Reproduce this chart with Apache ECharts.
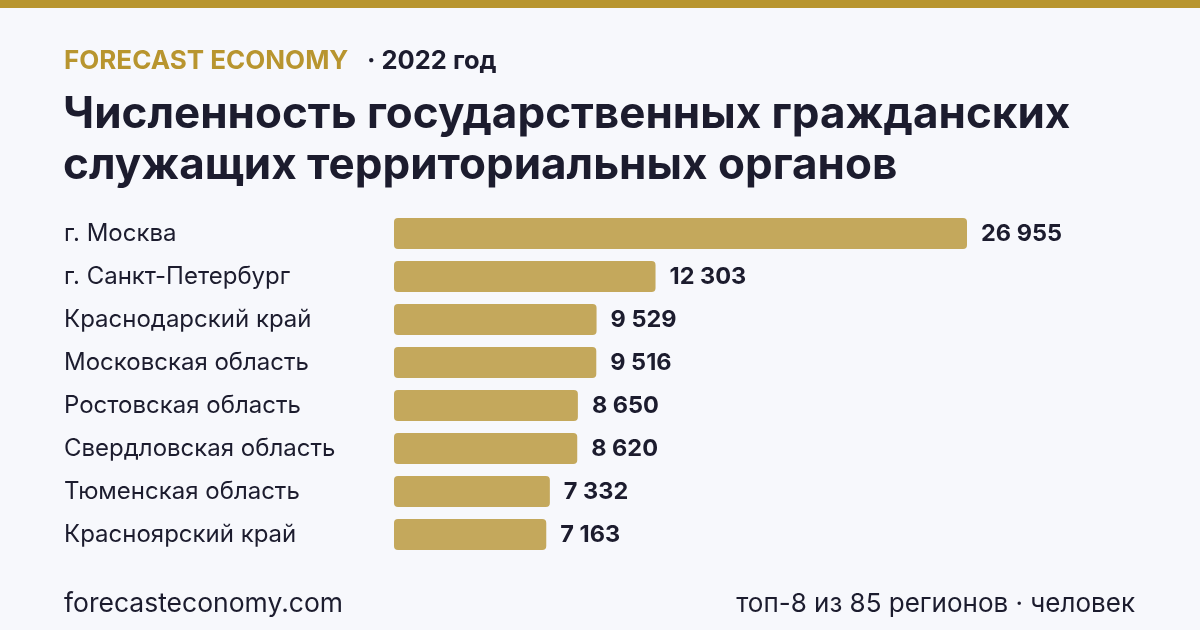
<!DOCTYPE html>
<html><head><meta charset="utf-8">
<script src="https://cdn.jsdelivr.net/npm/echarts@6/dist/echarts.min.js"></script>
<style>html,body{margin:0;padding:0;background:#f7f8fc}#c{width:1200px;height:630px}</style>
</head><body><div id="c"></div>
<script>
const categories = ["г. Москва","г. Санкт-Петербург","Краснодарский край","Московская область","Ростовская область","Свердловская область","Тюменская область","Красноярский край"];
const values = [26955,12303,9529,9516,8650,8620,7332,7163];
const brand = "FORECAST ECONOMY";
const yearText = "· 2022 год";
const titleLines = ["Численность государственных гражданских","служащих территориальных органов"];
const sourceText = "forecasteconomy.com";
const noteText = "топ-8 из 85 регионов · человек";

const dark = "#1c1c2e", gold = "#b8952f", barColor = "#c4a85c";
const fmt = v => String(v).replace(/\B(?=(\d{3})+(?!\d))/g, " ");
const chart = echarts.init(document.getElementById('c'));
chart.setOption({
  backgroundColor: "#f7f8fc",
  textStyle: {fontFamily: "Inter"},
  graphic: [
    {type:'rect', x:0, y:0, shape:{width:1200, height:8}, style:{fill:gold}},
    {type:'text', x:64, y:61, style:{text:brand, fill:gold, font:'bold 26px Inter', verticalAlign:'middle'}},
    {type:'text', x:367, y:61, style:{text:yearText, fill:dark, font:'bold 25.5px Inter', verticalAlign:'middle'}},
    {type:'text', x:63, y:115, style:{text:titleLines[0], fill:dark, font:'bold 44px Inter', verticalAlign:'middle'}},
    {type:'text', x:63, y:166, style:{text:titleLines[1], fill:dark, font:'bold 44px Inter', verticalAlign:'middle'}},
    {type:'text', x:64, y:604, style:{text:sourceText, fill:dark, font:'26.5px Inter', verticalAlign:'middle'}},
    {type:'text', x:1135, y:604, style:{text:noteText, fill:dark, font:'26px Inter', verticalAlign:'middle', align:'right'}}
  ],
  grid: {left:394, top:212, width:573, height:344, containLabel:false},
  xAxis: {type:'value', min:0, max:values[0], show:false},
  yAxis: {type:'category', data:categories, inverse:true,
    axisLine:{show:false}, axisTick:{show:false},
    axisLabel:{align:'left', margin:330, color:dark, fontSize:24, fontFamily:'Inter', padding:[4,0,0,0]}},
  series: [{type:'bar', data:values, barWidth:31,
    itemStyle:{color:barColor, borderRadius:4},
    label:{show:true, position:'right', distance:14, color:dark, fontSize:23.5, fontWeight:'bold', fontFamily:'Inter', padding:[4,0,0,0], formatter:p=>fmt(p.value)},
    animation:false}]
});
</script></body></html>
